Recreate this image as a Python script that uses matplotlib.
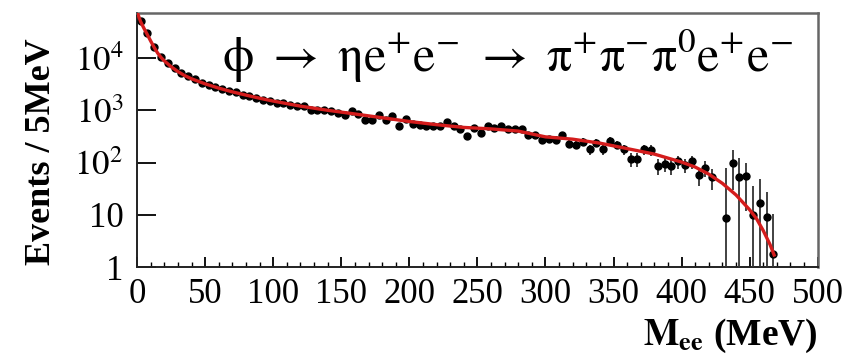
import matplotlib

matplotlib.use("Agg")
import matplotlib.pyplot as plt
import numpy as np
from matplotlib.ticker import FixedLocator, FuncFormatter, LogLocator, MultipleLocator, NullFormatter

plt.rcParams["font.family"] = ["Liberation Serif", "DejaVu Serif"]
plt.rcParams["mathtext.fontset"] = "stix"

# M_ee bin centres (5 MeV bins) and event counts per bin
bin_centres = [2.5 + 5 * i for i in range(94)]
counts = [
    51000, 30000, 16500, 10500, 8000, 6500, 5200, 4600, 3900, 3300,
    3000, 2800, 2550, 2300, 2200, 2000, 1850, 1700, 1550, 1500,
    1400, 1350, 1250, 1200, 1200, 1000, 1000, 1000, 960, 880,
    810, 960, 840, 650, 650, 810, 650, 770, 500, 670,
    550, 520, 500, 500, 500, 590, 500, 440, 320, 460,
    370, 500, 460, 500, 430, 430, 430, 330, 340, 270,
    280, 270, 330, 230, 220, 250, 180, 240, 180, 260,
    220, 180, 115, 115, 180, 175, 87, 95, 87, 105,
    91, 105, 57, 79, 52, np.nan, 8.7, 100, 54, 56,
    10, 17, 9.2, 1.8,
]
count_errs = [
    600, 450, 350, 280, 250, 220, 200, 180, 170, 160,
    150, 140, 135, 130, 125, 120, 115, 110, 105, 100,
    100, 95, 90, 90, 90, 85, 85, 85, 80, 80,
    75, 80, 75, 70, 70, 75, 70, 70, 60, 65,
    60, 60, 58, 58, 58, 60, 56, 55, 50, 55,
    52, 55, 54, 55, 52, 52, 52, 48, 48, 45,
    45, 45, 48, 42, 42, 44, 40, 44, 40, 45,
    42, 40, 34, 34, 40, 40, 28, 30, 28, 30,
    28, 30, 22, 26, 22, 0, 70, 70, 70, 44,
    25, 32, 18, 8.7,
]

# fitted spectrum
fit_m = [0.5, 2.5, 5, 7.5, 10, 12.5, 15, 17.5, 20, 25, 30, 35, 40, 50, 60, 70,
         80, 90, 100, 120, 140, 160, 180, 200, 220, 240, 260, 280, 300, 320,
         340, 360, 380, 400, 410, 420, 430, 440, 450, 455, 460, 465, 468]
fit_n = [70000, 50000, 37000, 28000, 21000, 16000, 12500, 10300, 8800, 6800,
         5500, 4600, 4000, 3200, 2650, 2250, 1950, 1700, 1500, 1200, 1000,
         850, 720, 610, 530, 470, 440, 400, 310, 280, 235, 185, 145, 102,
         82, 60, 40, 24, 12.5, 8.5, 5, 2.7, 1.7]

fig = plt.figure(figsize=(8.68, 3.58), dpi=100)
ax = fig.add_axes([0.158, 0.254, 0.784, 0.710])

ax.errorbar(bin_centres, counts, yerr=count_errs, fmt="o", color="black",
            ecolor="#333333", elinewidth=1.3, markersize=5, capsize=0, zorder=3)
ax.plot(fit_m, fit_n, color="#d41c1c", linewidth=2.4, zorder=4)

ax.set_yscale("log")
ax.set_xlim(0, 500)
ax.set_ylim(1, 7.3e4)

ax.xaxis.set_major_locator(MultipleLocator(50))
ax.xaxis.set_minor_locator(MultipleLocator(10))
ax.yaxis.set_major_locator(FixedLocator([1, 10, 100, 1000, 10000]))
ax.yaxis.set_minor_locator(LogLocator(base=10, subs=np.arange(2, 10)))
ax.yaxis.set_minor_formatter(NullFormatter())


def ylab(v, pos):
    if v < 5:
        return "1"
    if v < 50:
        return "10"
    return r"$10^{%d}$" % round(np.log10(v))


ax.yaxis.set_major_formatter(FuncFormatter(ylab))

ax.tick_params(axis="both", which="both", direction="in", top=False, right=False,
               labelsize=25, colors="black")
ax.tick_params(axis="x", which="major", length=7, width=1.3, pad=8)
ax.tick_params(axis="x", which="minor", length=3.5, width=1.0)
ax.tick_params(axis="y", which="major", length=14, width=1.3, pad=10)
ax.tick_params(axis="y", which="minor", length=7, width=1.0)

for s in ["left", "bottom"]:
    ax.spines[s].set_color("#222222")
    ax.spines[s].set_linewidth(1.4)
for s in ["top", "right"]:
    ax.spines[s].set_color("#666666")
    ax.spines[s].set_linewidth(1.8)

ax.text(0.963, 0.768,
        r"$\mathrm{\phi \ \rightarrow\ \eta e^{+}e^{-} \ \rightarrow\ \pi^{+}\pi^{-}\pi^{0}e^{+}e^{-}}$",
        transform=ax.transAxes, ha="right", va="baseline", fontsize=36)

fig.text(0.048, 0.575, "Events / 5MeV", rotation=90, ha="center", va="center",
         fontsize=26, fontweight="bold")
fig.text(0.942, 0.036, r"$\mathbf{M}_{\mathbf{ee}}$ (MeV)", ha="right", va="baseline",
         fontsize=27, fontweight="bold")

fig.savefig("out.png", dpi=100)
